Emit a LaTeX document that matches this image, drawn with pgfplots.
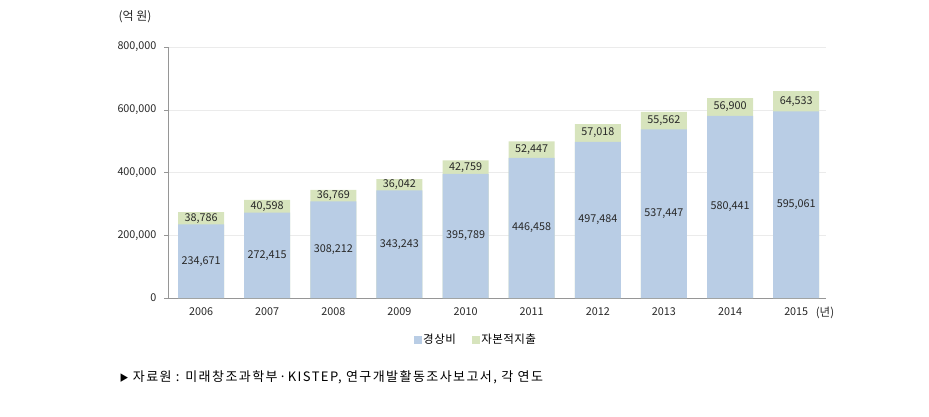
\documentclass[border=0pt]{standalone}
\usepackage{pgfplots}
\pgfplotsset{compat=1.18}
\usepackage{pgfplotstable}
\usepackage{fontspec}
\setmainfont{Noto Sans CJK KR}
\definecolor{cblue}{RGB}{185,205,229}
\definecolor{cgreen}{RGB}{215,228,189}
\definecolor{axgray}{RGB}{150,150,150}
\definecolor{txt}{RGB}{40,40,40}
\pgfplotstableread{
x yr a b la lb
0 2006 234671 38786 {234,671} {38,786}
1 2007 272415 40598 {272,415} {40,598}
2 2008 308212 36769 {308,212} {36,769}
3 2009 343243 36042 {343,243} {36,042}
4 2010 395789 42759 {395,789} {42,759}
5 2011 446458 52447 {446,458} {52,447}
6 2012 497484 57018 {497,484} {57,018}
7 2013 537447 55562 {537,447} {55,562}
8 2014 580441 56900 {580,441} {56,900}
9 2015 595061 64533 {595,061} {64,533}
}\data
\begin{document}
\begin{tikzpicture}
\path[use as bounding box] (0pt,0pt) rectangle (929pt,-417pt);
\begin{axis}[
  at={(168pt,-298pt)}, anchor=south west,
  scale only axis, width=658pt, height=251pt,
  xmin=-0.5, xmax=9.45, ymin=0, ymax=800000,
  axis x line*=bottom, axis y line*=left,
  axis line style={axgray},
  ytick={0,200000,400000,600000,800000},
  scaled y ticks=false,
  /pgf/number format/.cd, fixed, 1000 sep={,}, assume math mode=true, /pgfplots/.cd,
  ymajorgrids, grid style={black!8},
  xtick={0,...,9},
  xticklabels={2006,2007,2008,2009,2010,2011,2012,2013,2014,2015},
  minor xtick={0.5,1.5,2.5,3.5,4.5,5.5,6.5,7.5,8.5,9.45},
  tick align=outside,
  major tick length=4pt, minor tick length=4pt,
  xtick style={draw=none},
  minor tick style={axgray},
  ytick style={axgray},
  tick label style={font=\fontsize{10.8}{12}\selectfont, text=txt},
  xticklabel style={yshift=-2pt},
  yticklabel style={xshift=-4pt},
  legend style={at={(0.468,-0.167)}, anchor=center, draw=none, fill=none,
    legend columns=2, font=\fontsize{11.5}{13}\selectfont\addfontfeature{LetterSpace=4},
    /tikz/every even column/.append style={column sep=14pt}},
]
\addplot[ybar, bar width=46pt, bar shift=0pt, fill=cgreen, draw=none, forget plot]
  table[x=x, y expr=\thisrow{a}+\thisrow{b}] {\data};
\addplot[ybar, bar width=46pt, bar shift=0pt, fill=cblue, draw=none, forget plot]
  table[x=x, y=a] {\data};
\addplot[only marks, mark=none, forget plot, nodes near coords, point meta=explicit symbolic,
  every node near coord/.style={anchor=center, font=\fontsize{10.8}{12}\selectfont, text=txt}]
  table[x=x, y expr=\thisrow{a}/2, meta=la] {\data};
\addplot[only marks, mark=none, forget plot, nodes near coords, point meta=explicit symbolic,
  every node near coord/.style={anchor=center, font=\fontsize{10.8}{12}\selectfont, text=txt}]
  table[x=x, y expr=\thisrow{a}+\thisrow{b}/2, meta=lb] {\data};
\addlegendimage{legend image code/.code={\fill[cblue] (0pt,-3.5pt) rectangle (7pt,3.5pt);}}
\addlegendentry{경상비}
\addlegendimage{legend image code/.code={\fill[cgreen] (0pt,-3.5pt) rectangle (7pt,3.5pt);}}
\addlegendentry{자본적지출}
\end{axis}
\node[font=\fontsize{12}{14}\selectfont, text=txt] at (135pt,-17pt) {(억 원)};
\node[font=\fontsize{11.5}{13}\selectfont, text=txt] at (825pt,-313pt) {(년)};
\node[anchor=west, font=\fontsize{13}{15}\selectfont\addfontfeature{LetterSpace=11}, text=black] at (116pt,-377pt) {{\fontsize{9}{10}\selectfont ▶} 자료원 : 미래창조과학부·KISTEP, 연구개발활동조사보고서, 각 연도};
\end{tikzpicture}
\end{document}
